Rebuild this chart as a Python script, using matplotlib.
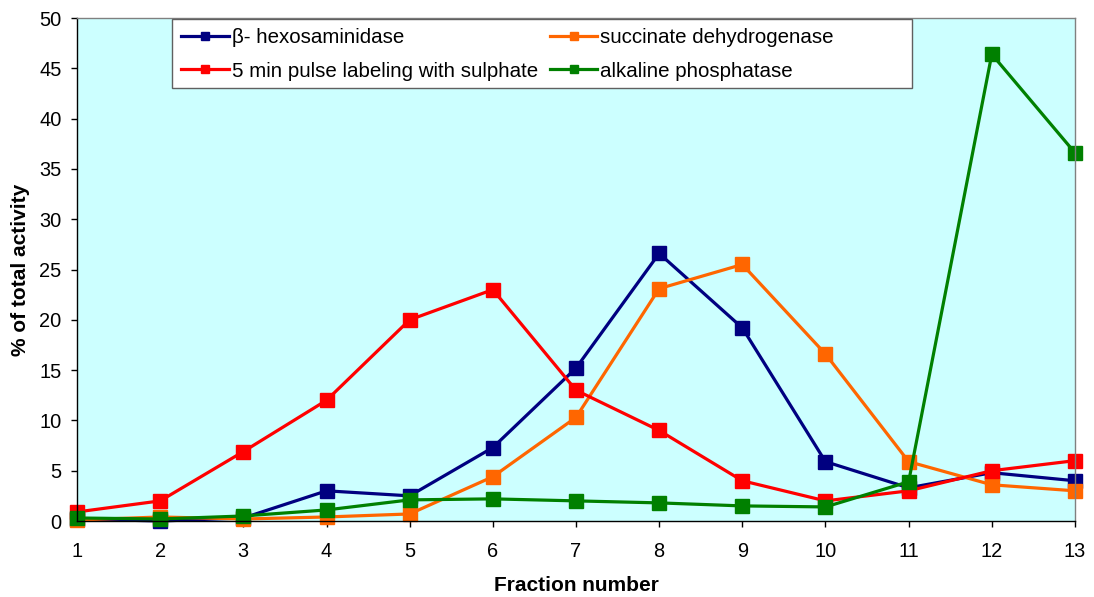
import matplotlib.pyplot as plt
from matplotlib.patches import Rectangle

plt.rcParams['font.family'] = ['Liberation Sans', 'DejaVu Sans']

# fraction numbers and % of total activity for each marker
fractions = [1, 2, 3, 4, 5, 6, 7, 8, 9, 10, 11, 12, 13]
hexosaminidase = [0.2, 0.0, 0.3, 3.0, 2.5, 7.3, 15.2, 26.6, 19.2, 5.9, 3.3, 4.8, 4.0]
succinate = [0.1, 0.4, 0.2, 0.4, 0.7, 4.4, 10.3, 23.1, 25.5, 16.6, 5.9, 3.6, 3.0]
pulse = [0.9, 2.0, 6.9, 12.0, 20.0, 23.0, 13.0, 9.0, 4.0, 2.0, 3.0, 5.0, 6.0]
phosphatase = [0.3, 0.2, 0.5, 1.1, 2.1, 2.2, 2.0, 1.8, 1.5, 1.4, 3.9, 46.4, 36.6]

fig = plt.figure(figsize=(10.94, 5.97), dpi=100)
ax = fig.add_axes([0.0704, 0.1273, 0.9122, 0.8425])
ax.set_facecolor('#CCFFFF')

style = dict(marker='s', markersize=10, linewidth=2.3, clip_on=False)
l1, = ax.plot(fractions, hexosaminidase, color='#000080', label='\u03b2- hexosaminidase', **style)
l2, = ax.plot(fractions, succinate, color='#FF6600', label='succinate dehydrogenase', **style)
l3, = ax.plot(fractions, pulse, color='#FF0000', label='5 min pulse labeling with sulphate', **style)
l4, = ax.plot(fractions, phosphatase, color='#008000', label='alkaline phosphatase', **style)

ax.set_xlim(1, 13)
ax.set_ylim(0, 50)
ax.set_xticks(fractions)
ax.set_yticks(range(0, 51, 5))
ax.tick_params(labelsize=14.4, direction='out', length=4, width=1)
ax.tick_params(axis='x', pad=11)
ax.tick_params(axis='y', pad=7)
for s in ax.spines.values():
    s.set_linewidth(1)
ax.spines['top'].set_color('#808080')
ax.spines['right'].set_color('#808080')
ax.set_xlabel('Fraction number', fontsize=15, fontweight='bold', labelpad=11)
ax.set_ylabel('% of total activity', fontsize=15, fontweight='bold', labelpad=7)

# legend box is wider than its entries, so draw the frame by hand
ax.add_patch(Rectangle((0.0952, 0.861), 0.7415, 0.137, transform=ax.transAxes,
                       facecolor='white', edgecolor='#606060', linewidth=1, zorder=4))
leg = ax.legend([l1, l3, l2, l4], [l1.get_label(), l3.get_label(), l2.get_label(), l4.get_label()],
                ncol=2, loc='upper left', bbox_to_anchor=(0.0952, 0.998), fontsize=14.8,
                frameon=False, handlelength=2.3, handletextpad=0.15, columnspacing=0.6,
                borderpad=0.45, labelspacing=0.7, markerscale=0.55, borderaxespad=0)
leg.set_zorder(5)

plt.savefig('out.png', dpi=100)
